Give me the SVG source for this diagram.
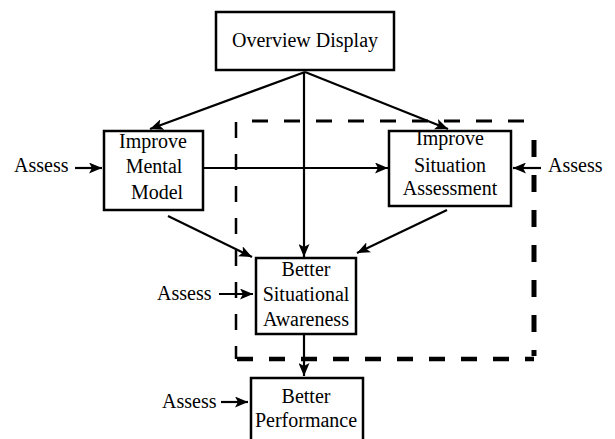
<svg xmlns="http://www.w3.org/2000/svg" width="615" height="439" viewBox="0 0 615 439">
  <style>
    .box { fill: #fff; stroke: #000; stroke-width: 2.5; }
    .lbl { font-family: "Liberation Serif", "Times New Roman", serif; font-size: 20px; fill: #000; }
    .mid { text-anchor: middle; }
    .edge { stroke: #000; stroke-width: 2.2; fill: none; marker-end: url(#arrow); }
    .dash { stroke: #000; fill: none; stroke-dasharray: 16 16; }
  </style>
  <defs>
    <marker id="arrow" viewBox="0 0 13 11" refX="13" refY="5.5" markerWidth="13" markerHeight="11" markerUnits="userSpaceOnUse" orient="auto">
      <path d="M0,0 L13,5.5 L0,11 L3,5.5 Z" fill="#000"/>
    </marker>
  </defs>
  <rect width="615" height="439" fill="#fff"/>

  <!-- dashed boundary -->
  <g id="boundary">
    <path class="dash" d="M252,121 L538,121" stroke-width="3"/>
    <path class="dash" d="M534,140 L534,356" stroke-width="5" style="stroke-dasharray:17 18"/>
    <path class="dash" d="M237,359 L534,359" stroke-width="4.5"/>
    <path class="dash" d="M236,122 L236,359" stroke-width="2.5"/>
  </g>

  <g id="connectors">
    <line class="edge" x1="305" y1="72" x2="150" y2="129"/>
    <line class="edge" x1="305" y1="72" x2="448" y2="129"/>
    <line class="edge" x1="304" y1="72" x2="304" y2="257"/>
    <line class="edge" x1="203" y1="168" x2="388" y2="168"/>
    <line class="edge" x1="168" y1="216" x2="252" y2="257"/>
    <line class="edge" x1="447" y1="210" x2="357" y2="253"/>
    <line class="edge" x1="304" y1="335" x2="304" y2="376"/>
    <line class="edge" x1="75" y1="168" x2="102" y2="168"/>
    <line class="edge" x1="541" y1="168" x2="513" y2="168"/>
    <line class="edge" x1="219" y1="294" x2="253" y2="294"/>
    <line class="edge" x1="221" y1="402" x2="248" y2="402"/>
  </g>

  <g id="overview-display">
    <rect class="box" x="216" y="12" width="178" height="58"/>
    <text class="lbl mid" x="305" y="47">Overview Display</text>
  </g>

  <g id="improve-mental-model">
    <rect class="box" x="104" y="131" width="99" height="79"/>
    <text class="lbl mid" x="153" y="148">Improve</text>
    <text class="lbl mid" x="154" y="173">Mental</text>
    <text class="lbl mid" x="157" y="199">Model</text>
  </g>

  <g id="improve-situation-assessment">
    <rect class="box" x="389" y="131" width="122" height="75"/>
    <text class="lbl mid" x="450" y="145">Improve</text>
    <text class="lbl mid" x="450" y="172">Situation</text>
    <text class="lbl mid" x="450" y="195">Assessment</text>
  </g>

  <g id="better-situational-awareness">
    <rect class="box" x="256" y="258" width="100" height="76"/>
    <text class="lbl mid" x="306" y="276">Better</text>
    <text class="lbl mid" x="306" y="301">Situational</text>
    <text class="lbl mid" x="306" y="326">Awareness</text>
  </g>

  <g id="better-performance">
    <rect class="box" x="251" y="378" width="112" height="70"/>
    <text class="lbl mid" x="306" y="403">Better</text>
    <text class="lbl mid" x="306" y="427">Performance</text>
  </g>

  <g id="assess-labels">
    <text class="lbl" x="14" y="172">Assess</text>
    <text class="lbl" x="548" y="172">Assess</text>
    <text class="lbl" x="157" y="300">Assess</text>
    <text class="lbl" x="162" y="408">Assess</text>
  </g>
</svg>
